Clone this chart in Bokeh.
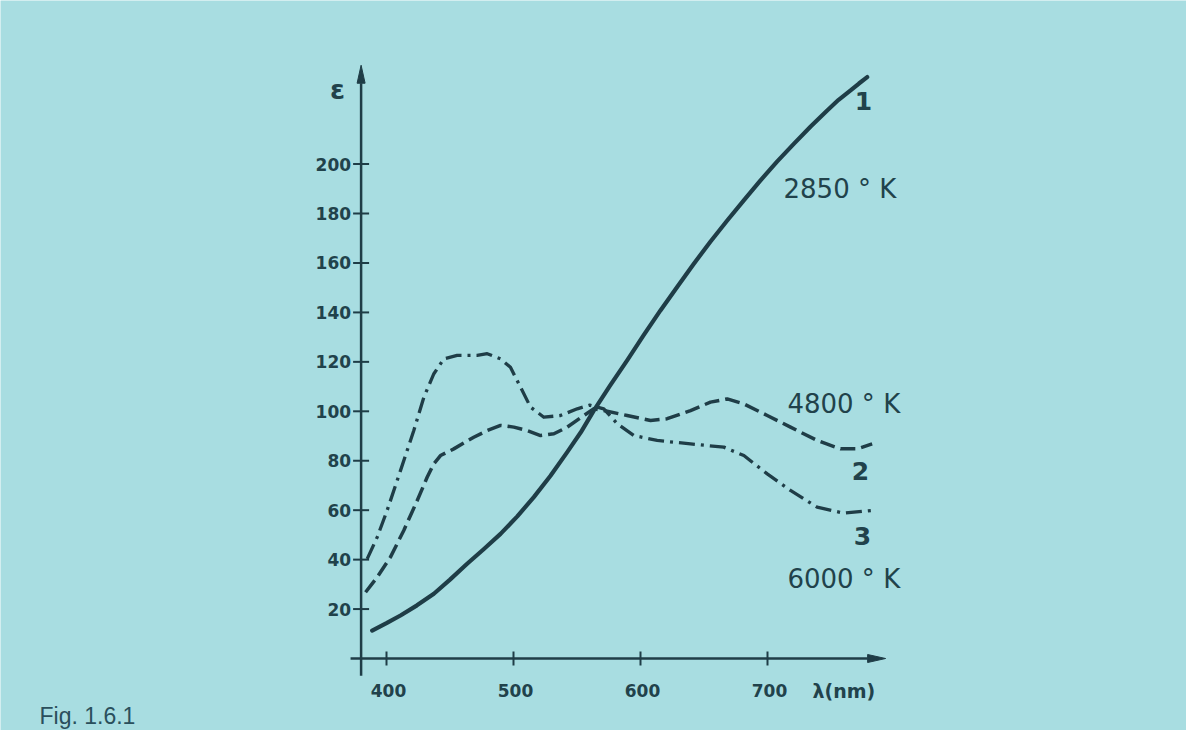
from bokeh.plotting import figure
from bokeh.models import Range1d, Label
from bokeh.core.properties import value
from bokeh.embed import file_html
from bokeh.resources import INLINE

# ---------------- data ----------------
# curve 1: 2850 K (solid)
wl_1 = [388.7, 400, 411, 424, 437.3, 450, 463.5, 476.5, 489.8, 503, 516, 529, 542.3, 553,
        563.2, 576, 589.5, 602.5, 615.7, 629, 642, 655, 668.3, 681.5, 694.5, 707.5, 720.7,
        734, 747, 756, 765.4, 772, 778.5]
eps_1 = [11.3, 14.3, 17.4, 21.5, 26.2, 31.9, 38.3, 44.2, 50.4, 57.5, 65.3, 73.8, 83.5, 91.5,
         100.3, 110.4, 120.6, 130.8, 140.8, 150.4, 159.7, 168.6, 177.2, 185.4, 193.4, 201, 208.2,
         215.2, 221.7, 226, 229.8, 232.6, 235.2]

# curve 2: 4800 K (dashed)
wl_2 = [383.5, 392.7, 403.1, 413.6, 424.2, 432, 437.3, 442.5, 453, 468.7, 479.3, 489.8, 500.3,
        510.8, 521.3, 531.8, 542.3, 555.4, 563.3, 571.1, 589.5, 607.9, 621, 639.4, 655.1, 668.3,
        681.4, 699.8, 718.1, 739.1, 757.5, 770.6, 782.4]
eps_2 = [26.8, 32.9, 41, 51.8, 63.9, 73.3, 78.8, 82.1, 84.8, 89.5, 92.2, 94.3, 93.6,
         92.2, 90.2, 90.9, 93.6, 98.3, 101, 100.3, 98.3, 96.3, 97, 100.3, 103.7, 105,
         103, 98.3, 93.6, 88.2, 84.8, 84.8, 86.8]

# curve 3: 6000 K (dash-dot)
wl_3 = [384.8, 392.7, 400.5, 411, 421.5, 429.4, 437.3, 445.1, 455.6, 471.4, 479.3, 489.8, 497.6,
        505.5, 513.4, 523.9, 537, 550.2, 560, 571.1, 581.7, 594.7, 613.1, 639.4, 665.6, 681.4,
        699.8, 718.1, 739.1, 760.1, 782.4]
eps_3 = [40.3, 49.1, 59.9, 76, 92.2, 105.7, 115.2, 121.2, 122.6, 122.6, 123.3, 121.2, 117.8,
         109.8, 101.7, 97.6, 98.3, 101, 102.5, 101, 95, 90.2, 88.2, 86.8, 85.5, 82.1,
         74.7, 68, 61.2, 58.8, 59.9]

y_ticks = [20, 40, 60, 80, 100, 120, 140, 160, 180, 200]
x_ticks = [400, 500, 600, 700]
curve_numbers = ["1", "2", "3"]
temperatures = ["2850 ° K", "4800 ° K", "6000 ° K"]
y_axis_label = "ε"
x_axis_label = "λ(nm)"
fig_caption = "Fig.  1.6.1"

# ---------------- layout / style ----------------
W, H = 1186, 730
PX_NM = 1.27      # pixels per nm
PX_EPS = 2.472    # pixels per epsilon unit
BG = "#a8dde1"
INK = "#1f3d47"
TXT = "#21424b"

x_start = 400 - 386 / PX_NM
y_top = 658 / PX_EPS

p = figure(width=W, height=H,
           x_range=Range1d(x_start, x_start + W / PX_NM),
           y_range=Range1d(y_top - H / PX_EPS, y_top),
           output_backend="svg", toolbar_location=None,
           x_axis_location=None, y_axis_location=None,
           min_border=0, background_fill_color=BG, border_fill_color=BG)
p.grid.visible = False
p.outline_line_color = None

# axis origin in data units
AX_X = 380.0
AX_Y = 0.0

# axes lines with arrow heads
x_tip = 793.0
y_tip = 240.0
head_len_x = 18 / PX_NM
head_half_y = 4 / PX_EPS
head_len_y = 18 / PX_EPS
head_half_x = 4 / PX_NM

p.segment(x0=[371.7], y0=[AX_Y], x1=[x_tip - head_len_x], y1=[AX_Y], line_color=INK, line_width=2.5)
p.segment(x0=[AX_X], y0=[-7.0], x1=[AX_X], y1=[y_tip - head_len_y], line_color=INK, line_width=2.5)
p.patch(x=[x_tip, x_tip - head_len_x, x_tip - head_len_x],
        y=[AX_Y, AX_Y + head_half_y, AX_Y - head_half_y], fill_color=INK, line_color=INK)
p.patch(x=[AX_X, AX_X - head_half_x, AX_X + head_half_x],
        y=[y_tip, y_tip - head_len_y, y_tip - head_len_y], fill_color=INK, line_color=INK)

# ticks
tx = 8 / PX_NM
p.segment(x0=[AX_X - tx] * len(y_ticks), y0=y_ticks, x1=[AX_X + tx] * len(y_ticks), y1=y_ticks,
          line_color=INK, line_width=2)
p.segment(x0=x_ticks, y0=[AX_Y + 7 / PX_EPS] * len(x_ticks), x1=x_ticks,
          y1=[AX_Y - 7 / PX_EPS] * len(x_ticks), line_color=INK, line_width=2)

tick_font = dict(text_font=value("DejaVu Sans"), text_font_style="bold",
                 text_font_size="17px", text_color=TXT)
p.text(x=[AX_X] * len(y_ticks), y=y_ticks, text=[str(v) for v in y_ticks],
       x_offset=-10, text_align="right", text_baseline="middle", **tick_font)
p.text(x=x_ticks, y=[AX_Y] * len(x_ticks), text=[str(v) for v in x_ticks],
       x_offset=2, y_offset=32, text_align="center", text_baseline="middle", **tick_font)

# axis labels
p.text(x=[735.4], y=[AX_Y], text=[x_axis_label], y_offset=32, text_align="left",
       text_baseline="middle", text_font=value("DejaVu Sans"), text_font_style="bold",
       text_font_size="19px", text_color=TXT)
p.text(x=[361.4], y=[230.2], text=[y_axis_label], text_align="center", text_baseline="middle",
       text_font=value("DejaVu Sans"), text_font_style="bold", text_font_size="27px",
       text_color=TXT)

# curves
p.line(wl_1, eps_1, line_color=INK, line_width=4.2, line_join="round", line_cap="round")
p.line(wl_2, eps_2, line_color=INK, line_width=3.5, line_dash="15 6", line_join="round")
p.line(wl_3, eps_3, line_color=INK, line_width=3.3, line_dash="16 6 3 6", line_join="round")

# curve labels
p.text(x=[775.6, 773.2, 774.8], y=[225.7, 76.0, 49.4], text=curve_numbers,
       text_align="center", text_baseline="middle",
       text_font=value("DejaVu Sans"), text_font_style="bold", text_font_size="25px",
       text_color=TXT)
p.text(x=[712.6, 715.7, 715.7], y=[190.0, 102.8, 32.0], text=temperatures,
       text_align="left", text_baseline="middle",
       text_font=value("DejaVu Sans"), text_font_size="26px", text_color=TXT)

# caption
p.add_layout(Label(x=39, y=15, x_units="screen", y_units="screen", text=fig_caption,
                   text_font="Liberation Sans", text_font_size="23px",
                   text_baseline="middle", text_color="#2a4f5c"))

open("out.html", "w").write(file_html(p, INLINE))
